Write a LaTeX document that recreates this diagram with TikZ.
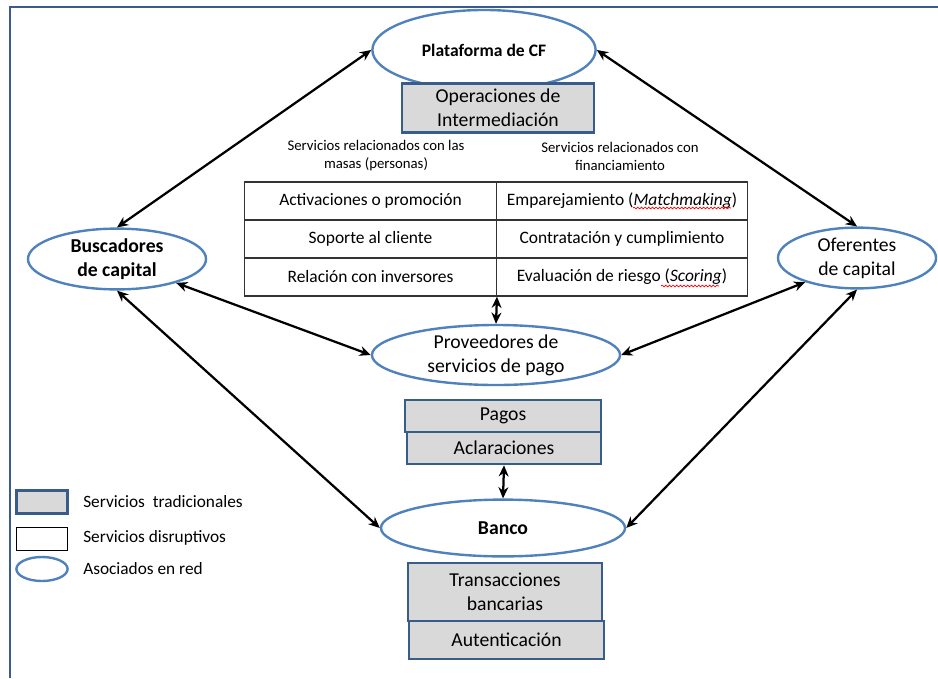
\documentclass[tikz,border=0pt]{standalone}
\usepackage{fontspec}
\setmainfont{Carlito}
\usetikzlibrary{arrows.meta,decorations.pathmorphing,shapes.geometric}
\definecolor{azulred}{HTML}{4F81BD}
\definecolor{azulcaja}{HTML}{385D8A}
\definecolor{grisfondo}{HTML}{D9D9D9}
\definecolor{marco}{HTML}{3A5A94}
\begin{document}
\begin{tikzpicture}[x=0.025cm, y=-0.025cm,
    every node/.style={font=\fontsize{14}{17}\selectfont, align=center, inner sep=0pt},
    asociado/.style={ellipse, draw=azulred, line width=1.7pt},
    tradicional/.style={rectangle, draw=azulcaja, fill=grisfondo, line width=1.7pt},
    celda/.style={rectangle, draw=black!80, line width=0.9pt, minimum width=6.29cm, minimum height=0.95cm, font=\fontsize{12.4}{15}\selectfont},
    encabezado/.style={font=\fontsize{10.5}{12.8}\selectfont},
    leyenda/.style={anchor=west, font=\fontsize{12.3}{14}\selectfont},
    flecha/.style={{Stealth[length=8pt,width=7pt]}-{Stealth[length=8pt,width=7pt]}, line width=1.6pt},
    subrayado/.style={red, line width=0.5pt, decorate, decoration={snake, amplitude=0.6pt, segment length=2.6pt}}]
    \useasboundingbox (0,0) rectangle (938,678);
    \draw[marco, line width=1.6pt] (10,678) -- (10,7) -- (938,7);

    \node[asociado, minimum width=5.58cm, minimum height=2cm, font=\fontsize{12.5}{16}\selectfont\bfseries] (plataforma) at (484,50) {Plataforma de CF};
    \node[tradicional, minimum width=4.8cm, minimum height=1.22cm] (operaciones) at (498,108) {Operaciones de\\Intermediación};

    \node[encabezado] (masas) at (376,156) {Servicios relacionados con las\\masas (personas)};
    \node[encabezado] (financiamiento) at (620,156) {Servicios relacionados con\\financiamiento};

    \node[celda] (t11) at (370.5,201) {Activaciones o promoción};
    \node[celda] (t21) at (370.5,239) {Soporte al cliente};
    \node[celda] (t31) at (370.5,277) {Relación con inversores};
    \node[celda] (t12) at (622,201) {Emparejamiento (\textit{Matchmaking})};
    \node[celda] (t22) at (622,239) {Contratación y cumplimiento};
    \node[celda] (t32) at (622,277) {Evaluación de riesgo (\textit{Scoring})};
    \draw[subrayado] (633,208) -- (731,208);
    \draw[subrayado] (661,286) -- (719,286);

    \node[asociado, minimum width=4.45cm, minimum height=1.52cm, font=\fontsize{14}{17}\selectfont\bfseries] (buscadores) at (117,259) {Buscadores\\de capital};
    \node[asociado, minimum width=3.95cm, minimum height=1.52cm] (oferentes) at (857,258) {Oferentes\\de capital};
    \node[asociado, minimum width=6.2cm, minimum height=1.5cm] (proveedores) at (496,355) {Proveedores de\\servicios de pago};

    \node[tradicional, minimum width=4.9cm, minimum height=0.8cm] (pagos) at (503,416) {Pagos};
    \node[tradicional, minimum width=4.85cm, minimum height=0.8cm] (aclaraciones) at (504,448) {Aclaraciones};
    \node[asociado, minimum width=6.1cm, minimum height=1.42cm, font=\fontsize{14}{17}\selectfont\bfseries] (banco) at (503,528) {Banco};
    \node[tradicional, minimum width=4.85cm, minimum height=1.45cm] (transacciones) at (505,592) {Transacciones\\bancarias};
    \node[tradicional, minimum width=4.88cm, minimum height=0.95cm] (autenticacion) at (506.5,640) {Autenticación};

    \draw[flecha] (plataforma.west) -- (buscadores.north);
    \draw[flecha] (plataforma.east) -- (oferentes.north);
    \draw[flecha] (buscadores.-22) -- (proveedores.west);
    \draw[flecha] (oferentes.-155) -- (proveedores.east);
    \draw[flecha] (buscadores.south) -- (banco.west);
    \draw[flecha] (oferentes.south) -- (banco.east);
    \draw[flecha] (t31.south east) -- (proveedores.north);
    \draw[flecha] (aclaraciones.south) -- (banco.north);

    \node[tradicional, minimum width=1.28cm, minimum height=0.58cm] (leyTrad) at (42,502) {};
    \node[rectangle, draw=black, line width=0.9pt, minimum width=1.28cm, minimum height=0.58cm] (leyDisr) at (42,539) {};
    \node[asociado, minimum width=1.28cm, minimum height=0.6cm] (leyRed) at (42,569) {};
    \node[leyenda] at (83,502) {Servicios\ \ tradicionales};
    \node[leyenda] at (83,538) {Servicios disruptivos};
    \node[leyenda] at (83,569) {Asociados en red};
\end{tikzpicture}
\end{document}
